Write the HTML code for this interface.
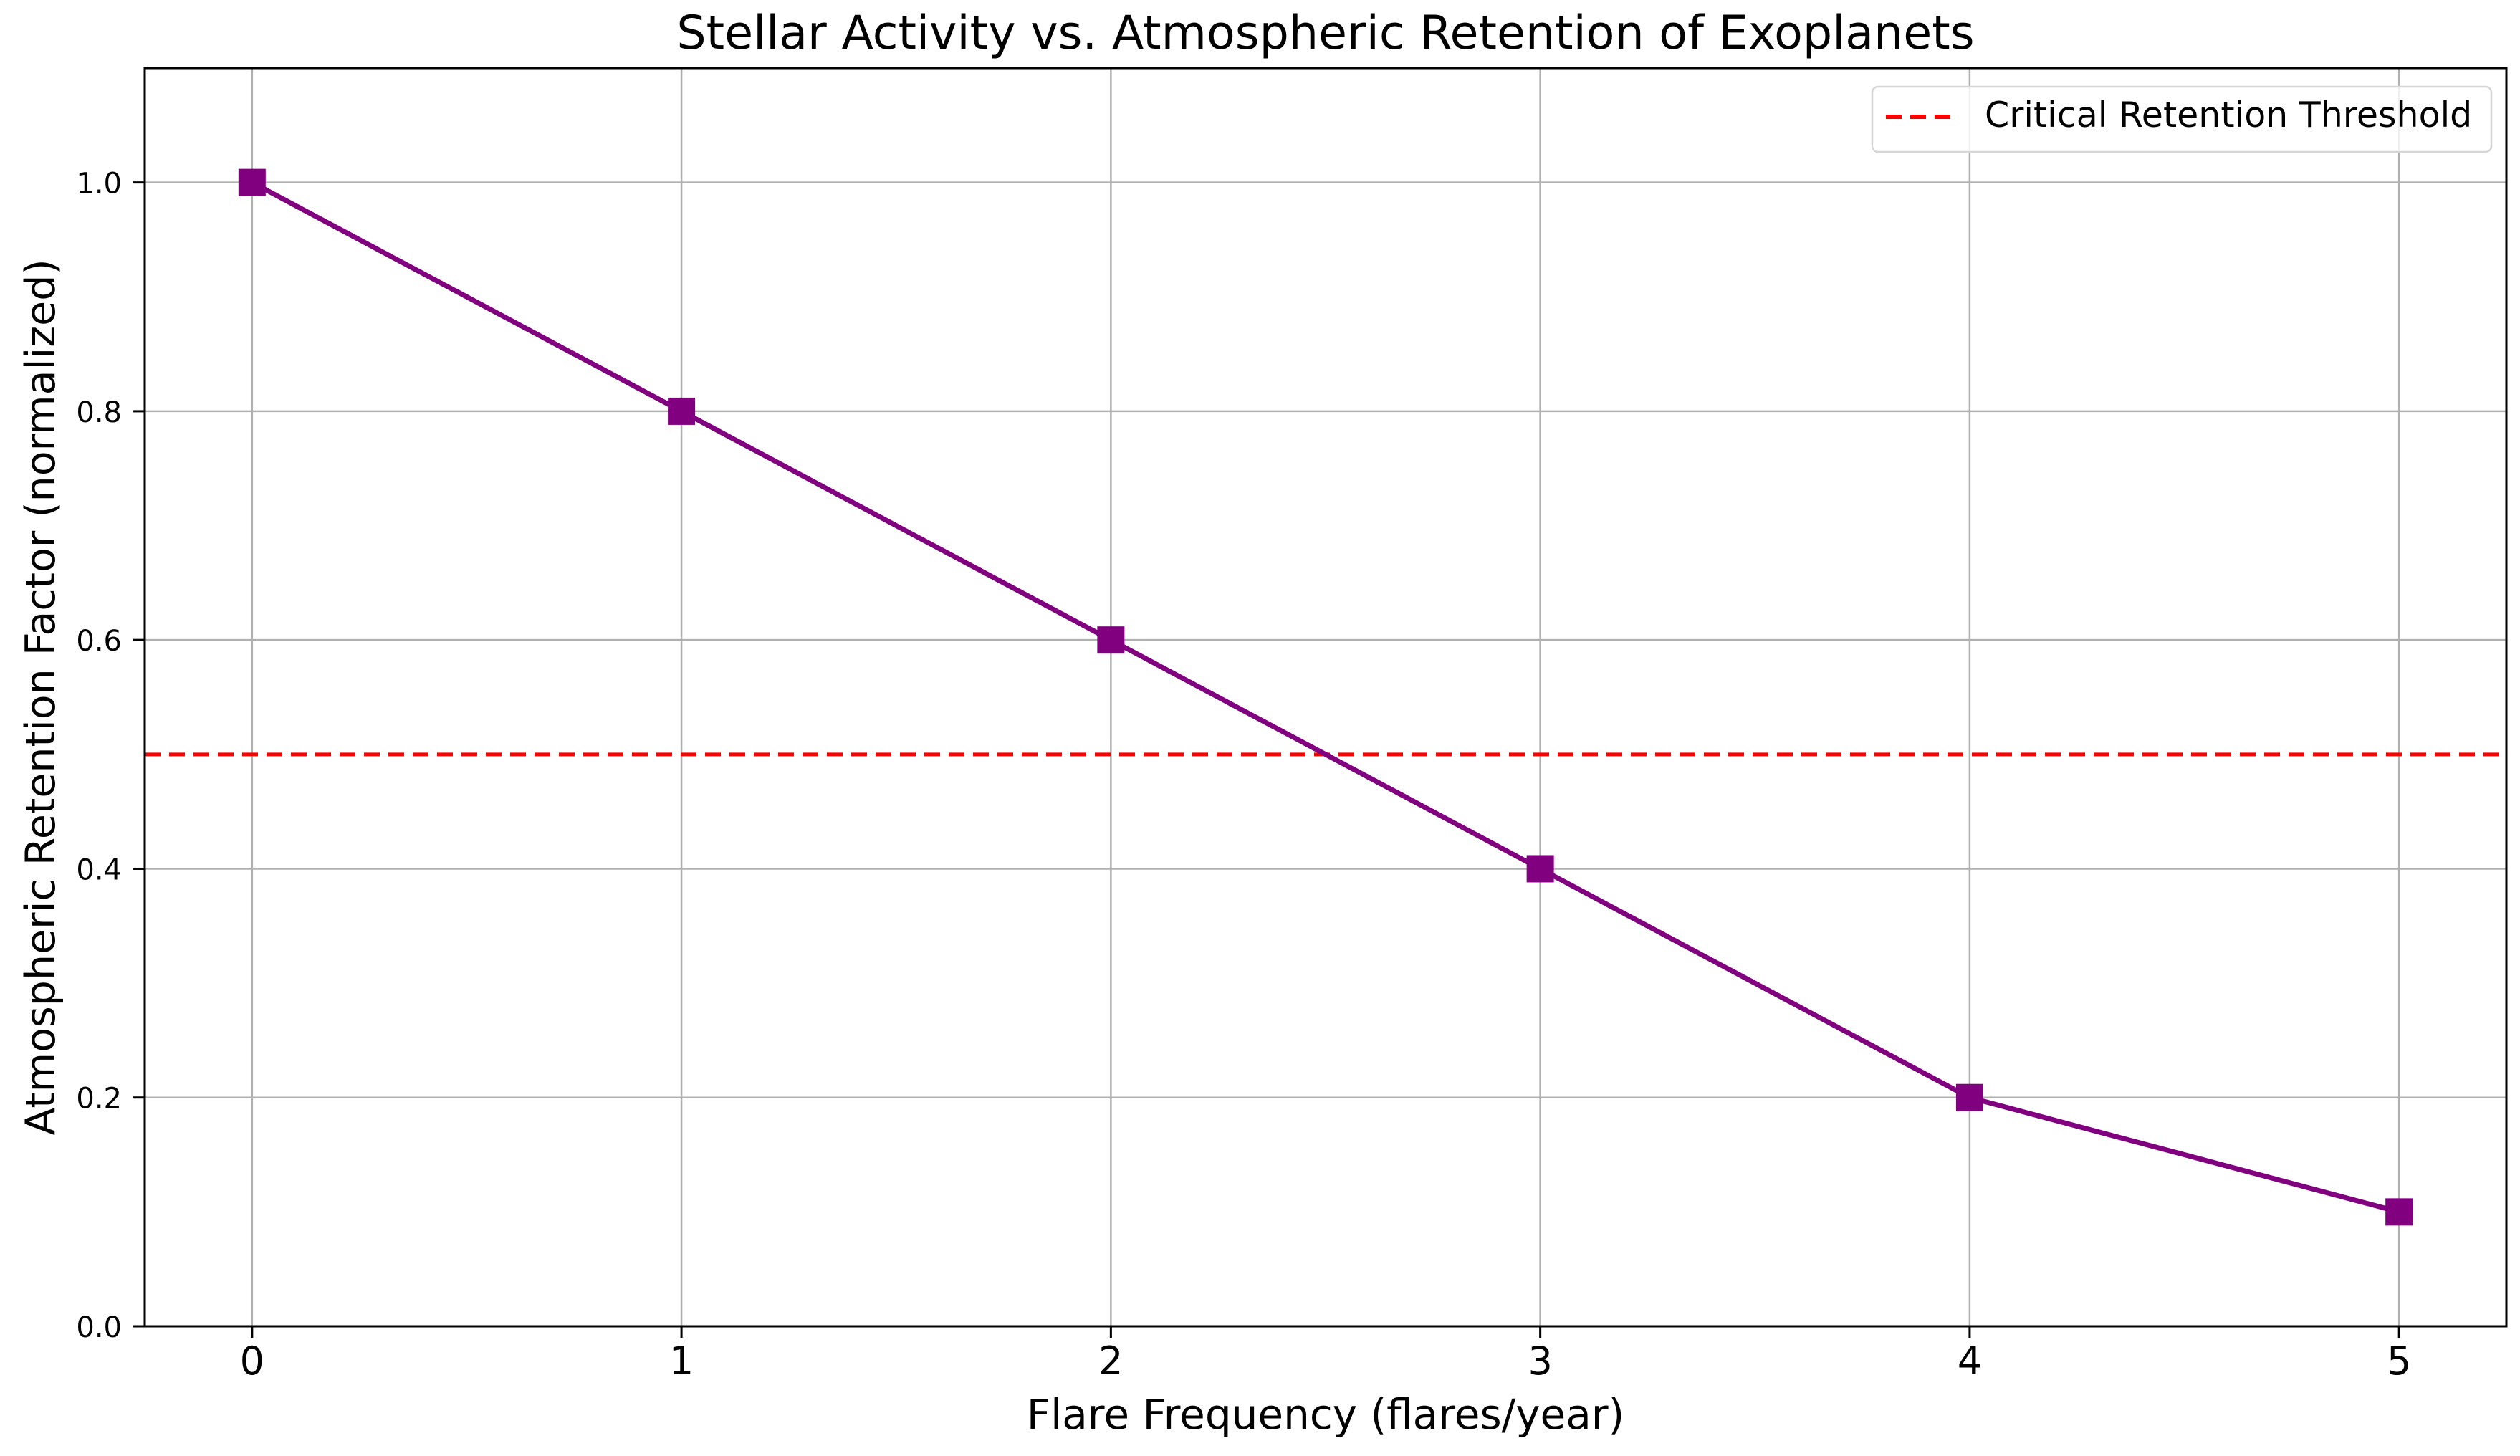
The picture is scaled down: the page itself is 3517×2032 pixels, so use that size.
<!DOCTYPE html>
<html><head><meta charset="utf-8"><style>
html,body{margin:0;padding:0;background:#fff;}
svg text{font-family:"DejaVu Sans","Liberation Sans",sans-serif;fill:#000;}
</style></head><body>
<svg id="chart" width="3517" height="2027" viewBox="0 0 3517 2027" xmlns="http://www.w3.org/2000/svg">
<rect x="0" y="0" width="3517" height="2027" fill="#fff"/>
<g id="grid"></g>
<g id="ticks"></g>
<g id="marks"></g>
<rect x="202" y="95" width="3296" height="1756" fill="none" stroke="#000" stroke-width="3"/>
<text x="1850" y="68" font-size="65" text-anchor="middle">Stellar Activity vs. Atmospheric Retention of Exoplanets</text>
<text x="1850" y="1994" font-size="58" text-anchor="middle">Flare Frequency (flares/year)</text>
<text x="0" y="0" font-size="57" text-anchor="middle" transform="translate(76,973) rotate(-90)">Atmospheric Retention Factor (normalized)</text>
<g>
<rect x="2613" y="121" width="864" height="91" rx="8" fill="#fff" fill-opacity="0.8" stroke="#d6d6d6" stroke-width="2.5"/>
<line x1="2632" y1="163" x2="2723" y2="163" stroke="#ff0000" stroke-width="6" stroke-dasharray="22,12"/>
<text x="2770" y="177" font-size="49">Critical Retention Threshold</text>
</g>
</svg>
<script>
const xValues = [0, 1, 2, 3, 4, 5];
const yValues = [1.0, 0.8, 0.6, 0.4, 0.2, 0.1];
const thresholdValue = [0.5];
const xTickLabels = ["0", "1", "2", "3", "4", "5"];
const yTickValues = [0.0, 0.2, 0.4, 0.6, 0.8, 1.0];
const yTickLabels = ["0.0", "0.2", "0.4", "0.6", "0.8", "1.0"];

const NS = "http://www.w3.org/2000/svg";
const L = 202, R = 3498, T = 95, B = 1851;
const xMin = -0.25, xMax = 5.25, yMin = 0, yMax = 1.1;
function xs(v){ return L + (v - xMin) / (xMax - xMin) * (R - L); }
function ys(v){ return B - (v - yMin) / (yMax - yMin) * (B - T); }
function mk(tag, attrs, parent){
  const e = document.createElementNS(NS, tag);
  for (const k in attrs) e.setAttribute(k, attrs[k]);
  parent.appendChild(e);
  return e;
}
const grid = document.getElementById('grid');
const ticks = document.getElementById('ticks');
const marks = document.getElementById('marks');

xValues.forEach((v, i) => {
  const x = xs(v);
  const g = mk('line', {x1:x, y1:T, x2:x, y2:B, stroke:'#b0b0b0', 'stroke-width':2.5}, grid);
  
  
  const t = mk('line', {x1:x, y1:B, x2:x, y2:B+16, stroke:'#000', 'stroke-width':3}, ticks);
  
  
  const lb = mk('text', {x:x, y:1918, 'font-size':54, 'text-anchor':'middle'}, ticks);
  lb.textContent = xTickLabels[i];
  
  
});
yTickValues.forEach((v, i) => {
  const y = ys(v);
  const g = mk('line', {x1:L, y1:y, x2:R, y2:y, stroke:'#b0b0b0', 'stroke-width':2.5}, grid);
  
  
  const t = mk('line', {x1:L-16, y1:y, x2:L, y2:y, stroke:'#000', 'stroke-width':3}, ticks);
  
  
  const lb = mk('text', {x:170, y:y+15, 'font-size':40, 'text-anchor':'end'}, ticks);
  lb.textContent = yTickLabels[i];
  
  
});

const th = mk('line', {x1:L, y1:ys(thresholdValue[0]), x2:R, y2:ys(thresholdValue[0]), stroke:'#ff0000', 'stroke-width':5, 'stroke-dasharray':'22,12'}, marks);



const pts = xValues.map((v, i) => xs(v) + ',' + ys(yValues[i])).join(' ');
const pl = mk('polyline', {points:pts, fill:'none', stroke:'#800080', 'stroke-width':7, 'stroke-linejoin':'round'}, marks);


xValues.forEach((v, i) => {
  const s = 38;
  const m = mk('rect', {x:xs(v)-s/2, y:ys(yValues[i])-s/2, width:s, height:s, fill:'#800080'}, marks);
  
  
});
</script>
</body></html>
